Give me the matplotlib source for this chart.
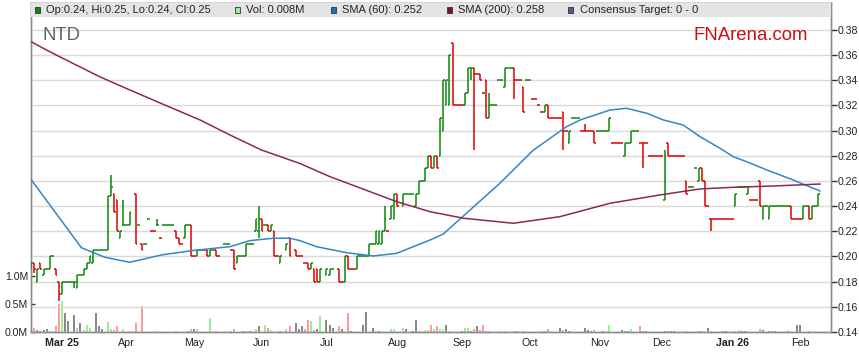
import matplotlib
matplotlib.use("Agg")
import matplotlib.pyplot as plt
from matplotlib.patches import Rectangle
import numpy as np
import pandas as pd

plt.rcParams['font.family'] = ['Liberation Sans', 'DejaVu Sans']

# daily OHLC in cents, None = no trade
open_c = [19, 19.5, 18, 19.5, 18.5, 19, 19, 20, 19, 18,
          17, 18, 18, 18, 18, 17.5, 18.5, 18.5, 19, 19.5,
          19.5, 20.5, 20.5, 20.5, 20.5, 20.5, 24.8, 25, 24.5, 21.5,
          22.5, 22.5, 22.5, None, 25, 22.5, 21, 21, 23, 22,
          22, 22.5, 21.5, 22.5, 22.5, 22.5, 22.5, 22, 21.5, 21,
          21.5, 22.5, 22.5, 20, 20, 20.5, 20.5, 20.5, 20, 20.5,
          20.5, 20, None, 21, 21, 20.5, 20.5, 19.5, 20, 20,
          20, 21, 21, 22, 22, 23, 22.5, 22.5, 22, 22,
          20, 19.5, None, 20.5, 21.5, None, 20.5, 20, 20, 19.5,
          19.5, 19, 19, 19, 18, None, 18.5, 18.5, 19, None,
          19, 18, 18, 20, 19, 19, 19, 20, 20, 20,
          20, 21, 21, 21, 21, 22, 22, 23, 23, 25,
          None, 24, 25, 25, 25, 24, 25, 26, 26, 27,
          28, 27, 28, 28, 30, 32, 32, 37, 32, 32,
          32, 32, 33, 35, 35, 34.5, 34.5, 33, 34, 31,
          32, 32, 34, 34, 33.5, 35, 35, 35, 34, 34,
          33.5, 34, 34, 32.5, 32.5, 32, 31.5, 31.5, 32, 31,
          31, 31, 31, 31.5, 30, 29, 31, 31, 31, 30,
          30, 30, 30, 30, 30, 30, 30, 30, 30, 29,
          29, 29, 29, 28, 29, 29, 30, 30, 29, 29,
          29, 28, 28, 28, 28, 28, 24.5, 29, 28, 28,
          28, 28, 28, 26, 25.5, 25.5, 27, 26, 27, 26,
          24, 23, 23, 23, 23, 23, 23, 23, 23, 24,
          25.5, 25.5, 25.5, 25, 24.5, 24.5, 24.5, 26, 23, 24,
          23, 24, 24, 24, 24, 24, 24, 24, 23, 23,
          23, 23, 24, 24, 23, 24, 24]
close_c = [19.5, 19, 19, 19, 19, 19, 20, 20, 18.5, 17,
           18, 18, 18, 18, 18, 18.5, 18.5, 19, 19.5, 20,
           20.5, 20.5, 20.5, 20.5, 20.5, 24.8, 25.5, 23.5, 22, 22,
           22.5, 22.5, 23.5, None, 21, 22.5, 20.5, 21, 23, 22,
           22, 22.5, 21.5, 22.5, 22.5, 22.5, 22.5, 21.5, 21, 21,
           22.5, 22.5, 20, 20, 20.5, 20.5, 20.5, 20, 20.5, 20.5,
           20, 20, None, 21, 21, 20.5, 19, 20, 20, 20,
           21, 21, 21, 23, 23, 22, 22.5, 22, 22.5, 20,
           20, 20, None, 21, 20, None, 20, 20, 20, 19.5,
           19, 19.5, 18, 18, 19, None, 19, 19, 19, None,
           18, 18, 20, 19, 19, 19, 20, 20, 20, 20,
           21, 21, 22, 22, 22, 23, 22, 24, 25, 24,
           None, 25, 25, 25, 25, 25, 26, 26, 27, 28,
           27, 28, 27, 31, 34, 34, 36, 32, 32, 32,
           32, 33, 35, 35, 34.5, 34.5, 34, 33, 31, 32,
           32, 32, 34, 34, 35, 35, 35, 34, 34, 34,
           31.5, 34, 34, 32.5, 32.5, 32, 31.5, 32, 31, 31,
           31, 31, 31, 30, 30, 30, 31, 31, 31, 30,
           30, 30, 30, 29, 30, 30, 30, 30, 31, 29,
           29, 29, 29, 29, 29, 30, 30, 30, 29, 29,
           29, 28, 28, 28, 28, 28, 28, 28, 28, 28,
           28, 28, 28, 25, 25.5, 25.5, 27, 27, 26, 24,
           24, 23, 23, 23, 23, 23, 23, 23, 23, 25,
           25.5, 25.5, 25.5, 25.5, 24.5, 24.5, 24.5, 24, 24, 24,
           24, 24, 24, 24, 24, 24, 24, 23, 23, 23,
           23, 24, 24, 23, 24, 24, 25]
# intraday extremes beyond open/close
wick_high = {26: 26.5, 30: 24.5, 41: 23, 74: 24, 115: 24, 149: 33, 180: 30.5, 206: 28.5}
wick_low = {1: 18.7, 9: 16.5, 14: 17.5, 74: 21.5, 143: 34, 144: 28.5, 157: 32.5,
            173: 28.5, 199: 27, 221: 22}

# volume in thousands
volume_k = [20, 75, 40, 15, 30, 45, 15, 5, 100, 500,
            550, 340, 190, 5, 310, 70, 160, 40, 120, 70,
            5, 340, 100, 45, 5, 180, 45, 30, 110, 5,
            50, 5, 15, 0, 160, 5, 460, 5, 5, 5,
            5, 15, 5, 5, 5, 5, 5, 15, 5, 5,
            5, 15, 45, 45, 45, 5, 5, 5, 260, 5,
            25, 5, 0, 5, 5, 15, 60, 5, 5, 15,
            15, 25, 5, 60, 100, 5, 130, 75, 35, 5,
            5, 10, 0, 45, 110, 0, 160, 50, 110, 45,
            220, 200, 35, 55, 280, 0, 220, 130, 70, 0,
            100, 45, 5, 340, 15, 5, 5, 5, 130, 360,
            5, 70, 15, 15, 5, 5, 5, 60, 50, 5,
            0, 80, 55, 5, 15, 220, 15, 5, 30, 30,
            120, 45, 110, 55, 45, 120, 15, 5, 5, 5,
            25, 80, 65, 15, 55, 100, 35, 120, 15, 15,
            5, 5, 15, 5, 15, 5, 5, 25, 15, 5,
            15, 5, 5, 5, 5, 5, 15, 25, 45, 5,
            5, 5, 70, 35, 45, 25, 5, 5, 5, 5,
            70, 35, 15, 35, 5, 5, 15, 5, 120, 5,
            5, 5, 35, 15, 15, 45, 5, 5, 100, 15,
            15, 5, 5, 5, 5, 5, 15, 15, 15, 15,
            5, 5, 5, 15, 5, 5, 5, 10, 15, 5,
            80, 15, 5, 5, 5, 15, 15, 5, 5, 15,
            35, 15, 15, 5, 5, 5, 5, 60, 35, 5,
            15, 15, 15, 5, 5, 5, 15, 5, 5, 120,
            120, 5, 5, 15, 5, 5, 8]

# moving averages (day index, price)
sma60_day = [0, 16.3, 23.9, 32, 42.3, 52, 64.6, 71.1, 78.7, 84.1, 87.4, 92.8, 102.6,
             111.2, 118.8, 129.7, 134, 152.4, 163.3, 174.1, 178.5, 188.2, 193.6,
             200.2, 205.6, 212, 217.5, 224, 228.3, 232.7, 239.2, 247.8, 252.2, 256.5]
sma60_val = [0.261, 0.207, 0.1994, 0.1954, 0.2012, 0.2046, 0.2078, 0.2126, 0.2145,
             0.2145, 0.2126, 0.2078, 0.203, 0.2004, 0.2025, 0.2131, 0.2179, 0.2582,
             0.2846, 0.3032, 0.3085, 0.3164, 0.3178, 0.3138, 0.3085, 0.3045, 0.2952,
             0.286, 0.2793, 0.2753, 0.2688, 0.2608, 0.2563, 0.2521]
sma200_day = [0, 4.5, 10, 22.4, 32.1, 41.9, 54.9, 64.6, 74.9, 87.4, 97.2, 118.8,
              129.7, 140.6, 156.8, 172, 188.2, 204.4, 217.5, 228.2, 241.2, 256.5]
sma200_val = [0.3707, 0.3647, 0.3578, 0.3427, 0.3323, 0.322, 0.3085, 0.2966, 0.2846,
              0.2739, 0.2634, 0.2436, 0.2356, 0.2304, 0.2264, 0.2317, 0.2423, 0.2489,
              0.2537, 0.255, 0.256, 0.2576]

dates = pd.bdate_range('2025-02-17', '2026-02-10')
price_ticks = [0.14, 0.16, 0.18, 0.20, 0.22, 0.24, 0.26, 0.28, 0.30, 0.32, 0.34, 0.36, 0.38]
vol_ticks = [0.0, 0.5, 1.0]

GREEN = '#0a880a'
RED = '#dd0000'
W, H = 859, 363

fig = plt.figure(figsize=(W / 100, H / 100), dpi=100)
ax_v = fig.add_axes([31 / W, 1 - 332 / H, 800 / W, 329 / H])
ax_p = ax_v.twinx()
ax_p.patch.set_visible(False)

# colours from day-to-day moves
n = len(close_c)
bar_col, vol_col = [], []
prev_c, prev_col = None, GREEN
for i in range(n):
    o, c = open_c[i], close_c[i]
    if c is None:
        bar_col.append(None)
        vol_col.append(None)
        continue
    if prev_c is not None and c > prev_c:
        col, vc = GREEN, '#99ee99'
    elif prev_c is not None and c < prev_c:
        col, vc = RED, '#ff9a9a'
    else:
        col = GREEN if c > o else RED if c < o else prev_col
        vc = '#8a8a8a'
    bar_col.append(col)
    vol_col.append(vc)
    prev_c, prev_col = c, col

# volume
vx = [i for i in range(n) if volume_k[i] > 0]
ax_v.bar(vx, [volume_k[i] / 1000 for i in vx], width=0.65,
         color=[vol_col[i] or '#8a8a8a' for i in vx], linewidth=0, zorder=2)
ax_v.set_ylim(0, 329 / 55.6)
ax_v.set_yticks(vol_ticks)
ax_v.set_yticklabels(['%.1fM' % t for t in vol_ticks])
ax_v.tick_params(axis='y', direction='in', length=3, width=1, color='#333333',
                 labelsize=7.6, labelcolor='#222222', pad=2)

# OHLC bars
for i in range(n):
    if close_c[i] is None:
        continue
    o, c = open_c[i] / 100, close_c[i] / 100
    hi = max(o, c, wick_high.get(i, 0) / 100)
    lo = min(o, c, wick_low.get(i, 99) / 100)
    col = bar_col[i]
    ax_p.plot([i, i], [lo, hi], color=col, lw=1.1, solid_capstyle='butt', zorder=4)
    ax_p.plot([i - 0.5, i], [o, o], color=col, lw=1.1, solid_capstyle='butt', zorder=4)
    ax_p.plot([i, i + 0.5], [c, c], color=col, lw=1.1, solid_capstyle='butt', zorder=4)

ax_p.plot(sma60_day, sma60_val, color='#3685c4', lw=1.1, zorder=5)
ax_p.plot(sma200_day, sma200_val, color='#8b2a4e', lw=1.1, zorder=5)

ax_p.set_ylim(0.14, 0.38 + 27 / 1258.5)
ax_p.set_yticks(price_ticks)
ax_p.set_yticklabels(['%.2f' % t for t in price_ticks])
ax_p.tick_params(axis='y', direction='out', length=4, width=1, color='#333333',
                 labelsize=7.6, labelcolor='#222222', pad=1)

# month ticks
month_idx, month_lab = [], []
for i in range(1, len(dates)):
    if dates[i].month != dates[i - 1].month:
        d = dates[i]
        month_idx.append(i)
        month_lab.append(d.strftime('%b %y') if (not month_lab or d.month == 1) else d.strftime('%b'))
ax_p.set_xlim(-0.08, 260.08)
ax_p.set_xticks(month_idx)
ax_p.set_xticklabels(month_lab)
ax_v.set_xticks(month_idx)
ax_v.set_xticklabels(month_lab)
ax_v.tick_params(axis='x', length=0, labelsize=7.7, labelcolor='#222222', pad=4)
for lab in ax_v.get_xticklabels():
    if ' ' in lab.get_text():
        lab.set_fontweight('bold')
ax_p.tick_params(axis='x', length=0, labelbottom=False)

ax_p.grid(True, color='#d9d9d9', lw=1, zorder=0)
ax_p.set_axisbelow(True)

for a in (ax_v, ax_p):
    for s in a.spines.values():
        s.set_color('#8c8c8c')
        s.set_linewidth(1)

# legend band
ax_p.add_patch(Rectangle((0, 1 - 14 / 329), 1, 14 / 329, transform=ax_p.transAxes,
                         facecolor='#e4e4e4', edgecolor='none', zorder=10, clip_on=False))
legend_items = [
    (35, GREEN, 'Op:0.24, Hi:0.25, Lo:0.24, Cl:0.25'),
    (235, '#99ee99', 'Vol: 0.008M'),
    (331, '#1f6fb0', 'SMA (60): 0.252'),
    (447, '#7a1030', 'SMA (200): 0.258'),
    (568, '#5c5c8f', 'Consensus Target: 0 - 0'),
]
for x0, col, txt in legend_items:
    fig.patches.append(Rectangle((x0 / W, 1 - 12.5 / H), 5 / W, 5 / H,
                                 transform=fig.transFigure, facecolor=col,
                                 edgecolor='#333333', lw=0.6, zorder=11))
    fig.text((x0 + 11.5) / W, 1 - 10 / H, txt, fontsize=8, color='#222222',
             va='center', ha='left', zorder=12)

fig.text(42 / W, 1 - 39.5 / H, 'NTD', fontsize=13.3, color='#5b6670', va='baseline')
fig.text(808 / W, 1 - 40 / H, 'FNArena.com', fontsize=13.4, color='#cc1111',
         va='baseline', ha='right')

fig.savefig('out.png', dpi=100)
